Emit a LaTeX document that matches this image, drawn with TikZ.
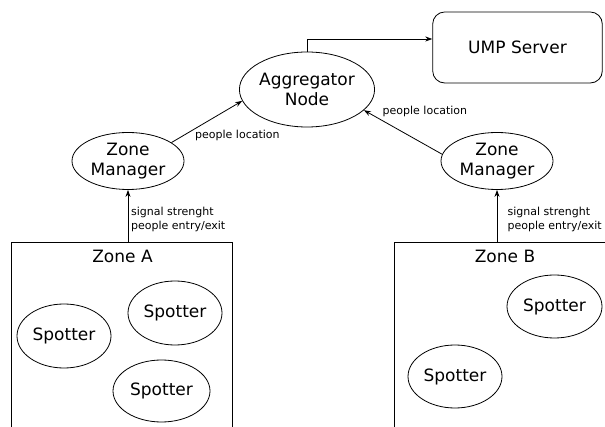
\documentclass[tikz,border=0pt]{standalone}
\usepackage{fontspec}
\setmainfont{DejaVu Sans}
\usetikzlibrary{shapes.geometric,arrows.meta}
\begin{document}
\begin{tikzpicture}[x=1pt,y=-1pt,
  every node/.style={inner sep=0pt},
  bubble/.style={draw, ellipse, line width=0.8pt, align=center,
    font=\fontsize{17}{20}\selectfont},
  zonebox/.style={draw, rectangle, line width=0.8pt},
  flow/.style={-{Stealth[length=7pt,width=5pt]}, line width=0.8pt},
  small/.style={font=\fontsize{11}{14}\selectfont, align=left, anchor=west},
  big/.style={font=\fontsize{17}{20}\selectfont}]
\useasboundingbox (0,0) rectangle (605,427);

% server and aggregator
\node[draw, line width=0.8pt, rounded corners=12pt, minimum width=169.6pt,
  minimum height=71pt, big] (ump) at (517.5,47.5) {UMP Server};
\node[bubble, minimum width=116pt, minimum height=75pt] (agg) at (307,89.5)
  {Aggregator\\Node};

% zone managers
\node[bubble, minimum width=112pt, minimum height=57pt] (zmA) at (128,161)
  {Zone\\Manager};
\node[bubble, minimum width=112pt, minimum height=57pt] (zmB) at (497,161)
  {Zone\\Manager};

% zones (running off the page)
\begin{scope}
  \clip (0,0) rectangle (605,427);
  \node[zonebox, minimum width=220.3pt, minimum height=217.3pt] (zoneA)
    at (121.85,351.35) {};
  \node[zonebox, minimum width=246pt, minimum height=217.3pt] (zoneB)
    at (517,351.35) {};
\end{scope}
\node[big] (zoneAlbl) at (122.5,256.5) {Zone A};
\node[big] (zoneBlbl) at (505,256.5) {Zone B};

% spotters
\node[bubble, minimum width=94pt, minimum height=64pt] (spA1) at (64,336) {Spotter};
\node[bubble, minimum width=94pt, minimum height=64pt] (spA2) at (175,313) {Spotter};
\node[bubble, minimum width=97pt, minimum height=62pt] (spA3) at (161.5,391) {Spotter};
\node[bubble, minimum width=95pt, minimum height=63pt] (spB1) at (554.5,306.5) {Spotter};
\node[bubble, minimum width=94pt, minimum height=63pt] (spB2) at (455,376.5) {Spotter};

% connectors
\draw[flow] (agg.north) |- ([yshift=8.5pt]ump.west);
\draw[flow] (zmA.23) -- (agg.190);
\draw[flow] (zmB.173) -- (agg.340);
\draw[flow] (zoneA.north -| zmA.south) -- (zmA.south);
\draw[flow] (zoneB.north -| zmB.south) -- (zmB.south);

% labels
\node[small] (lblA) at (195,135) {people location};
\node[small] (lblB) at (382.5,111) {people location};
\node[small] (sigA) at (131,219) {signal strenght\\people entry/exit};
\node[small] (sigB) at (507.5,219) {signal strenght\\people entry/exit};
\end{tikzpicture}
\end{document}
